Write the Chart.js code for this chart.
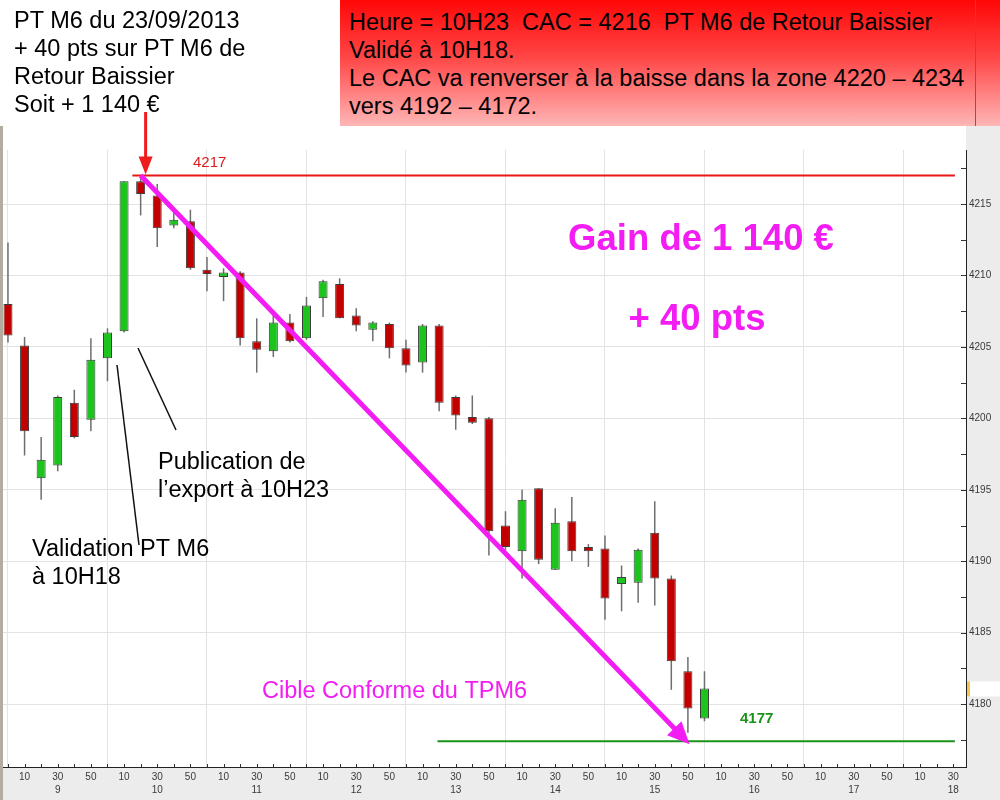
<!DOCTYPE html>
<html>
<head>
<meta charset="utf-8">
<script src="https://cdn.jsdelivr.net/npm/chart.js@4.4.0/dist/chart.umd.min.js"></script>
<style>
  html, body { margin:0; padding:0; background:#ececec; }
  #wrap { position:relative; width:1000px; height:800px; overflow:hidden; }
  #wrap canvas { position:absolute; left:0; top:0; }
  .note { position:absolute; font-family:'Liberation Sans', Arial, sans-serif; font-size:23.5px; line-height:28px; color:#000; white-space:pre; }
  #left { left:0; top:6px; padding-left:14px; }
  #red { left:340px; top:0; width:660px; height:126px; background:linear-gradient(#ff0707, #ff4545 45%, #ffb6b6); }
  #red .txt { position:absolute; left:9px; top:8px; }
  #red .edge { position:absolute; left:635px; top:0; width:1px; height:126px; background:#666; }
</style>
</head>
<body>
<div id="wrap">
  <canvas id="cac"></canvas>
  <div class="note" id="left">PT M6 du 23/09/2013
+ 40 pts sur PT M6 de
Retour Baissier
Soit + 1 140 €</div>
  <div class="note" id="red"><div class="txt">Heure = 10H23  CAC = 4216  PT M6 de Retour Baissier
Validé à 10H18.
Le CAC va renverser à la baisse dans la zone 4220 – 4234
vers 4192 – 4172.</div><div class="edge"></div></div>
</div>
<script>
/* CAC 40, bougies 10 minutes, 23/09/2013 */

const times  = ['09:00','09:10','09:20','09:30','09:40','09:50','10:00','10:10','10:20','10:30','10:40','10:50',
                '11:00','11:10','11:20','11:30','11:40','11:50','12:00','12:10','12:20','12:30','12:40','12:50',
                '13:00','13:10','13:20','13:30','13:40','13:50','14:00','14:10','14:20','14:30','14:40','14:50',
                '15:00','15:10','15:20','15:30','15:40','15:50','16:00'];
const opens  = [4208.0,4205.1,4195.8,4196.7,4201.1,4199.9,4204.2,4206.1,4216.6,4215.6,4213.5,4213.8,
                4210.4,4209.9,4210.2,4205.4,4204.7,4206.7,4205.6,4208.4,4209.4,4207.2,4206.2,4206.6,
                4204.9,4203.9,4206.5,4201.5,4200.1,4200.0,4192.5,4190.7,4195.1,4189.4,4192.8,4191.0,
                4190.9,4188.4,4188.5,4192.0,4188.8,4182.3,4179.0];
const highs  = [4212.3,4205.7,4198.7,4201.6,4202.0,4205.6,4206.3,4216.6,4216.8,4216.4,4214.7,4214.6,
                4211.3,4210.5,4210.3,4207.0,4207.4,4207.3,4208.5,4209.7,4209.8,4207.7,4206.8,4206.7,
                4205.5,4206.6,4206.6,4201.6,4201.6,4200.1,4193.5,4195.0,4195.1,4193.7,4194.5,4191.2,
                4191.8,4189.7,4190.9,4194.2,4189.0,4183.3,4182.3];
const lows   = [4205.3,4197.4,4194.3,4196.3,4198.6,4199.1,4202.6,4206.0,4214.2,4212.0,4213.3,4210.4,
                4208.9,4208.2,4205.1,4203.2,4204.3,4205.3,4205.5,4207.1,4207.0,4206.1,4205.4,4204.2,
                4203.2,4203.2,4200.5,4199.2,4199.6,4190.4,4190.8,4188.8,4189.8,4189.4,4190.0,4189.6,
                4185.9,4186.5,4187.1,4186.9,4181.0,4178.0,4178.8];
const closes = [4205.8,4199.1,4197.1,4201.5,4198.7,4204.1,4206.0,4216.6,4215.7,4213.3,4213.9,4210.5,
                4210.1,4210.2,4205.6,4204.8,4206.7,4205.4,4207.9,4209.6,4207.0,4206.5,4206.7,4204.9,
                4203.7,4206.5,4201.1,4200.2,4199.7,4192.1,4191.0,4194.3,4190.1,4192.7,4190.7,4190.7,
                4187.4,4188.9,4190.8,4188.8,4183.0,4179.7,4181.1];

// niveaux tracés sur le graphique
const resistance = { price: 4217, from: '10:15', to: '18:31' };
const target     = { price: 4177.4, from: '13:19', to: '18:31' };
const trend      = { from: ['10:20', 4217], to: ['15:51', 4177.2] };

const toMin = s => { const [h, m] = s.split(':').map(Number); return h * 60 + m; };

const FONT = "'Liberation Sans', Arial, sans-serif";
const UP = '#1ec41e', DOWN = '#c20000';

const bodies = times.map((t, i) => ({ x: toMin(t), y: [opens[i], closes[i]] }));
const wicks  = times.map((t, i) => ({ x: toMin(t), y: [lows[i], highs[i]] }));
const bodyColors = closes.map((c, i) => c >= opens[i] ? UP : DOWN);

function arrowHead(ctx, x1, y1, x2, y2, len, half){
  const a = Math.atan2(y2 - y1, x2 - x1);
  ctx.beginPath();
  ctx.moveTo(x2, y2);
  ctx.lineTo(x2 - len*Math.cos(a) + half*Math.sin(a), y2 - len*Math.sin(a) - half*Math.cos(a));
  ctx.lineTo(x2 - len*Math.cos(a) - half*Math.sin(a), y2 - len*Math.sin(a) + half*Math.cos(a));
  ctx.closePath();
  ctx.fill();
}

const backdrop = {
  id: 'backdrop',
  beforeDraw(chart){
    const {ctx, chartArea: a} = chart;
    ctx.save();
    ctx.fillStyle = '#ececec';
    ctx.fillRect(0, 0, chart.width, chart.height);
    ctx.fillStyle = '#fff';
    ctx.fillRect(0, 0, a.right, a.bottom);
    ctx.fillStyle = '#b3ad9f';
    ctx.fillRect(0, 126, 3, chart.height - 126);
    ctx.restore();
  }
};

const marks = {
  id: 'marks',
  afterDatasetsDraw(chart){
    const {ctx, chartArea: a, scales: {x, y}} = chart;
    ctx.save();
    // petits traits de graduation vers l'intérieur
    ctx.strokeStyle = '#333'; ctx.lineWidth = 1;
    y.ticks.forEach(t => {
      const py = Math.round(y.getPixelForValue(t.value)) + 0.5;
      ctx.beginPath(); ctx.moveTo(a.right - 5, py); ctx.lineTo(a.right, py); ctx.stroke();
    });
    x.ticks.forEach(t => {
      const px = Math.round(x.getPixelForValue(t.value)) + 0.5;
      ctx.beginPath(); ctx.moveTo(px, a.bottom - 3); ctx.lineTo(px, a.bottom); ctx.stroke();
    });

    // résistance 4217
    const ry = y.getPixelForValue(resistance.price);
    ctx.strokeStyle = '#e81818'; ctx.lineWidth = 2;
    ctx.beginPath(); ctx.moveTo(x.getPixelForValue(toMin(resistance.from)), ry);
    ctx.lineTo(x.getPixelForValue(toMin(resistance.to)), ry); ctx.stroke();
    ctx.fillStyle = '#e01c1c'; ctx.font = '15px ' + FONT; ctx.textBaseline = 'alphabetic';
    ctx.fillText('4217', 193, ry - 8);

    // objectif 4177
    const gy = y.getPixelForValue(target.price);
    ctx.strokeStyle = '#1a931a'; ctx.lineWidth = 2;
    ctx.beginPath(); ctx.moveTo(x.getPixelForValue(toMin(target.from)), gy);
    ctx.lineTo(x.getPixelForValue(toMin(target.to)), gy); ctx.stroke();
    ctx.fillStyle = '#1a931a'; ctx.font = 'bold 15px ' + FONT;
    ctx.fillText('4177', 740, gy - 18);

    // flèche rouge de publication 10H23
    const ax = x.getPixelForValue(toMin('10:23'));
    ctx.strokeStyle = '#ee1c1c'; ctx.fillStyle = '#ee1c1c'; ctx.lineWidth = 3;
    ctx.beginPath(); ctx.moveTo(ax, 112); ctx.lineTo(ax, ry - 14); ctx.stroke();
    arrowHead(ctx, ax, 112, ax, ry - 1, 18, 7);

    // tendance magenta
    const x1 = x.getPixelForValue(toMin(trend.from[0])), y1 = y.getPixelForValue(trend.from[1]);
    const x2 = x.getPixelForValue(toMin(trend.to[0])),   y2 = y.getPixelForValue(trend.to[1]);
    ctx.strokeStyle = '#f31cf3'; ctx.fillStyle = '#f31cf3'; ctx.lineWidth = 5; ctx.lineCap = 'butt';
    const ang = Math.atan2(y2 - y1, x2 - x1);
    ctx.beginPath(); ctx.moveTo(x1, y1); ctx.lineTo(x2 - 16*Math.cos(ang), y2 - 16*Math.sin(ang)); ctx.stroke();
    arrowHead(ctx, x1, y1, x2, y2, 22, 10);

    // traits de renvoi
    ctx.strokeStyle = '#111'; ctx.lineWidth = 1.5;
    ctx.beginPath(); ctx.moveTo(138, 348); ctx.lineTo(176, 430); ctx.stroke();
    ctx.beginPath(); ctx.moveTo(117, 365); ctx.lineTo(139, 545); ctx.stroke();

    // textes
    ctx.textBaseline = 'middle'; ctx.textAlign = 'left';
    ctx.fillStyle = '#000'; ctx.font = '23.5px ' + FONT;
    ctx.fillText('Publication de', 158, 463);
    ctx.fillText('l’export à 10H23', 158, 491);
    ctx.fillText('Validation PT M6', 32, 550);
    ctx.fillText('à 10H18', 32, 578);
    ctx.fillStyle = '#f31cf3';
    ctx.fillText('Cible Conforme du TPM6', 262, 692);
    ctx.font = 'bold 36.5px ' + FONT; ctx.textAlign = 'center';
    ctx.fillText('Gain de 1 140 €', 701, 240);
    ctx.fillText('+ 40 pts', 697, 320);

    // étiquette du dernier cours sur l'axe
    const ly = y.getPixelForValue(closes[closes.length - 1]);
    ctx.fillStyle = '#fff'; ctx.fillRect(a.right + 1, ly - 7, 34, 15);
    ctx.fillStyle = '#f4c64a'; ctx.fillRect(a.right + 1, ly - 7, 3, 15);
    ctx.restore();
  }
};

new Chart(document.getElementById('cac'), {
  type: 'bar',
  data: {
    datasets: [
      { data: bodies, backgroundColor: bodyColors, borderColor: '#3a3a3a', borderWidth: 1,
        borderSkipped: false, maxBarThickness: 9, minBarLength: 2, grouped: false, order: 1 },
      { data: wicks, backgroundColor: '#6e6e6e', borderWidth: 0,
        maxBarThickness: 1.5, grouped: false, order: 2 }
    ]
  },
  options: {
    responsive: true, maintainAspectRatio: false, animation: false,
    layout: { padding: { left: 3, top: 150, right: 0, bottom: 0 } },
    plugins: { legend: { display: false }, tooltip: { enabled: false } },
    scales: {
      x: {
        type: 'linear', min: 537, max: 1117.7, offset: false,
        grid: { offset: false, drawTicks: false, color: c => (c.tick && c.tick.value % 60 === 0) ? '#e3e3e3' : 'rgba(0,0,0,0)' },
        border: { display: true, color: '#222', width: 1 },
        ticks: {
          stepSize: 10, includeBounds: false, autoSkip: false, maxRotation: 0, padding: 4,
          color: '#3a3a3a', font: { family: FONT, size: 10, lineHeight: 1.3 },
          callback: v => {
            const m = v % 60;
            if (m === 30) return ['30', String(Math.floor(v / 60))];
            return (m === 10 || m === 50) ? String(m) : '';
          }
        },
        afterFit: s => { s.height = 33; }
      },
      y: {
        position: 'right', min: 4175.6, max: 4218.78,
        grid: { drawTicks: false, color: c => (c.tick && Math.abs(c.tick.value % 5) < 1e-6) ? '#e3e3e3' : 'rgba(0,0,0,0)' },
        border: { display: true, color: '#222', width: 1 },
        ticks: {
          stepSize: 2.5, includeBounds: false, padding: 3,
          color: '#3a3a3a', font: { family: FONT, size: 10 },
          callback: v => Math.abs(v % 5) < 1e-6 ? String(v) : ''
        },
        afterFit: s => { s.width = 34; }
      }
    }
  },
  plugins: [backdrop, marks]
});
</script>
</body>
</html>
